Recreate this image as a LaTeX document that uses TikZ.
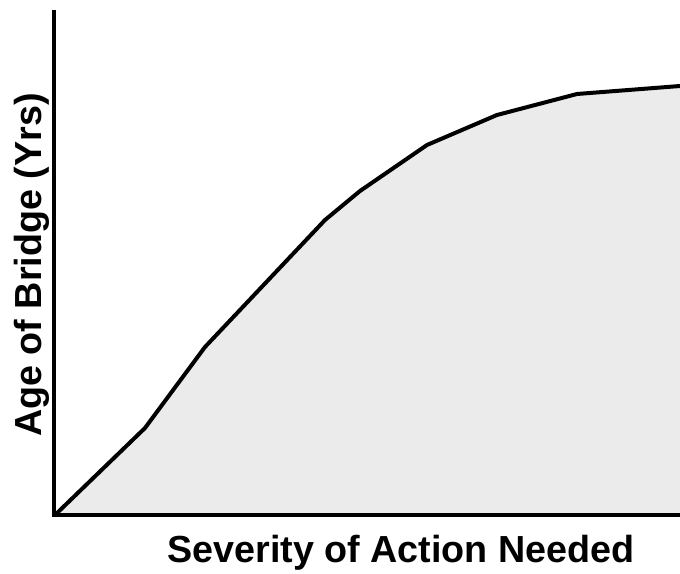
\documentclass[tikz,border=0pt]{standalone}
\usepackage{fontspec}
\setmainfont{Liberation Sans}
\definecolor{areagray}{RGB}{235,235,235}

\begin{document}
\begin{tikzpicture}[x=1pt,y=1pt]
\tikzset{axislabel/.style={font=\fontsize{37.7}{42}\selectfont\bfseries,inner sep=0pt}}
\useasboundingbox (0,0) rectangle (680,573);
% area under the curve
\fill[areagray] (55,58) -- (145,145) -- (205,226) -- (325,353) -- (360,382)
  -- (427,428) -- (497,458) -- (577,479) -- (680,487) -- (680,58) -- cycle;
\draw[line width=4pt,line join=round] (55,58) -- (145,145) -- (205,226) -- (325,353) -- (360,382)
  -- (427,428) -- (497,458) -- (577,479) -- (680,487);
% axes
\coordinate (top) at (54,563);
\coordinate (origin) at (54,58);
\coordinate (right) at (680,58);
\draw[line width=4pt] (top) -- (origin);
\draw[line width=4pt] (52,58) -- (right);
\node[axislabel,anchor=base] (xlabel) at (401,10) {Severity of Action Needed};
\node[axislabel,anchor=base,rotate=90] (ylabel) at (42,308) {Age of Bridge (Yrs)};
\end{tikzpicture}
\end{document}
